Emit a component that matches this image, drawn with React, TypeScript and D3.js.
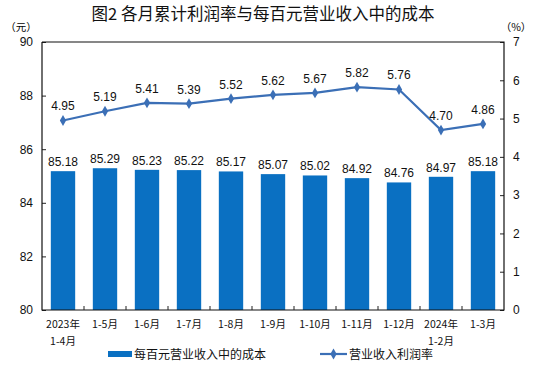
import React, { useEffect, useRef } from "react";
import * as d3 from "d3";

// x categories (two-line labels)
const periods = ["2023年|1-4月", "1-5月", "1-6月", "1-7月", "1-8月", "1-9月", "1-10月", "1-11月", "1-12月", "2024年|1-2月", "1-3月"];
// cost per 100 yuan of operating income (left axis, yuan)
const costValues = [85.18, 85.29, 85.23, 85.22, 85.17, 85.07, 85.02, 84.92, 84.76, 84.97, 85.18];
// operating income profit margin (right axis, %)
const marginValues = [4.95, 5.19, 5.41, 5.39, 5.52, 5.62, 5.67, 5.82, 5.76, 4.70, 4.86];
const leftTicks = [80, 82, 84, 86, 88, 90];
const rightTicks = [0, 1, 2, 3, 4, 5, 6, 7];

const BAR_COLOR = "#0a70c2";
const LINE_COLOR = "#3b6fb6";
const FONT = "'Liberation Sans', Arial, sans-serif";
const CJK = "'Noto Sans CJK SC', sans-serif";

export default function App() {
  const ref = useRef<SVGSVGElement>(null);

  useEffect(() => {
    const svg = d3.select(ref.current);
    svg.selectAll("*").remove();

    // plot area
    const left = 42, right = 504, top = 42, bottom = 310;

    const x = d3.scaleBand().domain(periods).range([left, right]).paddingInner(0.42).paddingOuter(0.21);
    const yL = d3.scaleLinear().domain([80, 90]).range([bottom, top]);
    const yR = d3.scaleLinear().domain([0, 7]).range([bottom, top]);

    // title
    svg.append("text")
      .attr("x", 263).attr("y", 20)
      .attr("text-anchor", "middle")
      .attr("font-family", CJK).attr("font-size", 16.5).attr("font-weight", 400)
      .attr("fill", "#111")
      .text("图2  各月累计利润率与每百元营业收入中的成本");

    // unit labels
    svg.append("text").attr("x", 21).attr("y", 31).attr("text-anchor", "middle")
      .attr("font-family", CJK).attr("font-size", 10.5).text("（元）");
    svg.append("text").attr("x", 516).attr("y", 31).attr("text-anchor", "middle")
      .attr("font-family", CJK).attr("font-size", 10.5).text("（%）");

    // bars
    svg.append("g").selectAll("rect")
      .data(costValues)
      .enter()
      .append("rect")
      .attr("x", (d, i) => x(periods[i])!)
      .attr("width", x.bandwidth())
      .attr("y", d => yL(d))
      .attr("height", d => bottom - yL(d))
      .attr("fill", BAR_COLOR);

    // bar labels
    svg.append("g").selectAll("text")
      .data(costValues)
      .enter()
      .append("text")
      .attr("x", (d, i) => x(periods[i])! + x.bandwidth() / 2)
      .attr("y", d => yL(d) - 5)
      .attr("text-anchor", "middle")
      .attr("font-family", FONT).attr("font-size", 12)
      .attr("fill", "#111")
      .text(d => d.toFixed(2));

    // left axis
    const axL = svg.append("g").attr("transform", `translate(${left},0)`)
      .call(d3.axisLeft(yL).tickValues(leftTicks).tickSize(-4).tickPadding(9).tickFormat(d3.format("d")));
    axL.select(".domain").remove();
    axL.selectAll("text").attr("font-family", FONT).attr("font-size", 12).attr("fill", "#111");
    axL.selectAll("line").attr("stroke", "#222");

    // right axis
    const axR = svg.append("g").attr("transform", `translate(${right},0)`)
      .call(d3.axisRight(yR).tickValues(rightTicks).tickSize(-4).tickPadding(9).tickFormat(d3.format("d")));
    axR.select(".domain").remove();
    axR.selectAll("text").attr("font-family", FONT).attr("font-size", 12).attr("fill", "#111");
    axR.selectAll("line").attr("stroke", "#222");

    // frame lines: left, right, top, bottom
    const frame = svg.append("g").attr("stroke", "#111").attr("stroke-width", 1.2).attr("fill", "none");
    frame.append("path").attr("d", `M${left},${top}V${bottom}H${right}V${top}H${left}`);

    // category boundary ticks on x axis
    svg.append("g").selectAll("line")
      .data(periods.slice(1))
      .enter()
      .append("line")
      .attr("x1", d => x(d)! - x.step() * x.paddingInner() / 2)
      .attr("x2", d => x(d)! - x.step() * x.paddingInner() / 2)
      .attr("y1", bottom).attr("y2", bottom - 4)
      .attr("stroke", "#222");

    // x labels
    const xl = svg.append("g").selectAll("text")
      .data(periods)
      .enter()
      .append("text")
      .attr("x", d => x(d)! + x.bandwidth() / 2)
      .attr("y", 328)
      .attr("text-anchor", "middle")
      .attr("font-family", CJK).attr("font-size", 10.5)
      .attr("fill", "#111");
    xl.each(function (d) {
      const parts = d.split("|");
      const t = d3.select(this);
      parts.forEach((p, k) => {
        t.append("tspan").attr("x", t.attr("x")).attr("dy", k === 0 ? 0 : 17).text(p);
      });
    });

    // line series
    const line = d3.line<number>()
      .x((d, i) => x(periods[i])! + x.bandwidth() / 2)
      .y(d => yR(d));
    svg.append("path")
      .datum(marginValues)
      .attr("d", line)
      .attr("fill", "none")
      .attr("stroke", LINE_COLOR)
      .attr("stroke-width", 2.2);

    const diamond = d3.symbol().type(d3.symbolDiamond).size(34);
    svg.append("g").selectAll("path")
      .data(marginValues)
      .enter()
      .append("path")
      .attr("d", diamond)
      .attr("transform", (d, i) => `translate(${x(periods[i])! + x.bandwidth() / 2},${yR(d)})`)
      .attr("fill", LINE_COLOR);

    svg.append("g").selectAll("text")
      .data(marginValues)
      .enter()
      .append("text")
      .attr("x", (d, i) => x(periods[i])! + x.bandwidth() / 2)
      .attr("y", d => yR(d) - 10)
      .attr("text-anchor", "middle")
      .attr("font-family", FONT).attr("font-size", 12)
      .attr("fill", "#111")
      .text(d => d.toFixed(2));

    // legend
    const lg = svg.append("g").attr("font-family", CJK).attr("font-size", 12).attr("fill", "#111");
    lg.append("rect").attr("x", 108).attr("y", 351).attr("width", 24).attr("height", 6).attr("fill", BAR_COLOR);
    lg.append("text").attr("x", 134).attr("y", 359).text("每百元营业收入中的成本");
    lg.append("line").attr("x1", 320).attr("x2", 347).attr("y1", 354).attr("y2", 354)
      .attr("stroke", LINE_COLOR).attr("stroke-width", 2.2);
    lg.append("path").attr("d", diamond).attr("transform", "translate(333.5,354)").attr("fill", LINE_COLOR);
    lg.append("text").attr("x", 349).attr("y", 359).text("营业收入利润率");
  }, []);

  return (
    <svg ref={ref} width={535} height={371} style={{ position: "absolute", left: 0, top: 0, background: "#fff" }} />
  );
}
